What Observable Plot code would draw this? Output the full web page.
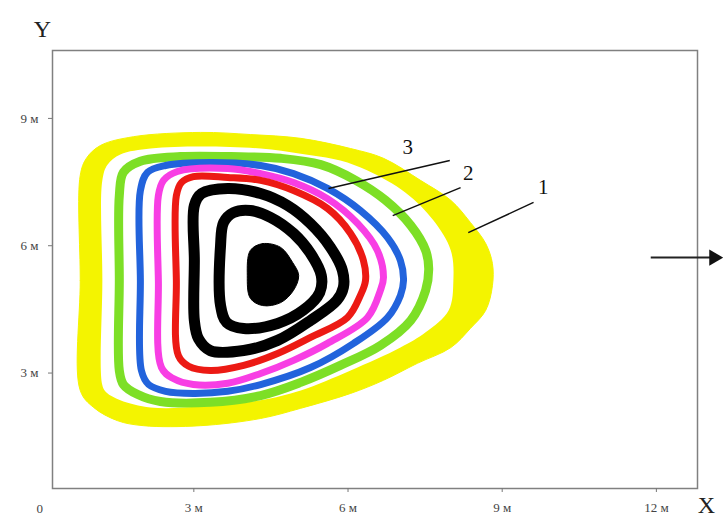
<!DOCTYPE html>
<html>
<head>
<meta charset="utf-8">
<script src="https://cdn.jsdelivr.net/npm/d3@7"></script>
<script src="https://cdn.jsdelivr.net/npm/@observablehq/plot@0.6"></script>
<style>
  html, body { margin: 0; padding: 0; background: #fff; }
  #chart svg { display: block; }
</style>
</head>
<body>
<div id="chart"></div>
<script>
// Axis ticks (metres)
const xTicks = [3, 6, 9, 12];
const yTicks = [3, 6, 9];

// Contour rings [x m, y m]
const yellowOuter = [[0.79,2.59],[0.79,5.18],[0.79,7.66],[0.91,8.06],[1.18,8.36],[1.83,8.57],[3.13,8.67],[4.10,8.62],[5.08,8.53],[6.05,8.29],[6.69,8.06],[7.41,7.54],[8.00,7.07],[8.38,6.55],[8.68,6.05],[8.81,5.58],[8.81,5.06],[8.68,4.48],[8.38,4.05],[8.00,3.60],[7.35,3.23],[6.69,2.83],[6.05,2.52],[5.08,2.17],[4.30,1.93],[3.13,1.76],[2.02,1.76],[1.51,1.88],[1.05,2.19]];
const yellowInner = [[1.22,2.71],[1.22,5.18],[1.22,7.54],[1.32,7.91],[1.57,8.15],[2.16,8.29],[3.13,8.34],[4.30,8.29],[5.08,8.17],[5.85,8.01],[6.38,7.77],[7.12,7.25],[7.66,6.60],[8.00,5.89],[8.05,5.18],[7.96,4.48],[7.51,3.96],[7.02,3.60],[6.05,3.06],[5.08,2.59],[4.30,2.36],[3.13,2.21],[2.16,2.19],[1.57,2.36],[1.30,2.54]];
const greenRing = [[1.55,3.06],[1.55,5.18],[1.55,7.18],[1.63,7.73],[1.96,7.99],[2.74,8.10],[3.72,8.10],[4.69,8.06],[5.47,7.91],[6.15,7.54],[6.73,7.07],[7.22,6.48],[7.51,5.89],[7.57,5.46],[7.51,4.95],[7.22,4.24],[6.63,3.65],[5.85,3.18],[5.08,2.78],[4.30,2.47],[3.32,2.31],[2.35,2.33],[1.90,2.50],[1.63,2.73]];
const blueRing = [[1.98,3.06],[1.96,5.18],[1.96,7.30],[2.10,7.73],[2.45,7.89],[3.32,7.96],[4.30,7.89],[4.94,7.70],[5.60,7.35],[6.24,6.83],[6.77,6.19],[7.02,5.65],[7.08,5.18],[7.02,4.83],[6.77,4.31],[6.11,3.70],[5.27,3.13],[4.30,2.73],[3.66,2.57],[2.99,2.52],[2.45,2.57],[2.12,2.73]];
const magentaRing = [[2.37,3.13],[2.31,5.18],[2.31,7.18],[2.41,7.54],[2.68,7.75],[3.66,7.82],[4.30,7.70],[4.94,7.49],[5.60,7.11],[6.19,6.52],[6.57,5.89],[6.69,5.25],[6.63,4.95],[6.38,4.31],[5.60,3.70],[4.94,3.30],[4.30,2.99],[3.66,2.76],[2.99,2.73],[2.60,2.87]];
const redRing = [[2.70,3.41],[2.66,5.18],[2.66,7.18],[2.76,7.49],[2.99,7.63],[3.66,7.61],[4.30,7.54],[4.94,7.30],[5.60,6.88],[6.05,6.29],[6.30,5.65],[6.34,5.18],[6.24,4.83],[5.99,4.31],[5.27,3.84],[4.63,3.46],[3.97,3.18],[3.32,3.06],[2.90,3.16]];
const blackRing1 = [[3.01,4.24],[3.01,5.65],[3.01,6.95],[3.15,7.23],[3.66,7.35],[4.30,7.23],[4.82,6.95],[5.27,6.52],[5.66,5.96],[5.89,5.42],[5.91,5.02],[5.78,4.71],[5.27,4.24],[4.63,3.77],[3.97,3.53],[3.32,3.53],[3.09,3.81]];
const blackRing2 = [[3.52,4.59],[3.52,6.01],[3.58,6.55],[3.77,6.78],[4.10,6.83],[4.49,6.67],[4.94,6.29],[5.27,5.82],[5.48,5.30],[5.45,4.90],[5.13,4.48],[4.63,4.17],[3.97,4.05],[3.64,4.19]];
const blackCore = [[4.10,5.89],[4.34,6.05],[4.69,5.96],[4.92,5.61],[5.04,5.30],[4.94,4.95],[4.69,4.66],[4.34,4.59],[4.10,4.76],[4.04,5.30]];

// Callout labels and leader lines
const calloutText = ["1", "2", "3"];
const calloutTextX = [9.80, 8.34, 7.16];
const calloutTextY = [7.37, 7.70, 8.31];
const leaderX1 = [9.61, 8.19, 7.98];
const leaderY1 = [7.02, 7.37, 8.01];
const leaderX2 = [8.34, 6.87, 5.62];
const leaderY2 = [6.31, 6.71, 7.35];

// Flow arrow
const arrowX = [11.89, 13.12];
const arrowY = [5.72, 5.72];

const serif = "'Liberation Serif', 'Times New Roman', serif";
const P = {x: d => d[0], y: d => d[1], curve: "catmull-rom-closed"};
const ring = (data, color, w) => Plot.line(data, {...P, stroke: color, strokeWidth: w, strokeLinejoin: "round"});

const callouts = calloutText.map((t, i) => ({t, x: calloutTextX[i], y: calloutTextY[i], x1: leaderX1[i], y1: leaderY1[i], x2: leaderX2[i], y2: leaderY2[i]}));

const chart = Plot.plot({
  width: 723,
  height: 517,
  marginLeft: 52,
  marginRight: 26,
  marginTop: 50,
  marginBottom: 29,
  style: {fontFamily: serif, background: "#fff"},
  x: {domain: [0.25, 12.8]},
  y: {domain: [0.28, 10.6]},
  marks: [
    Plot.line(yellowOuter, {...P, fill: "#f4f400", stroke: "#f4f400", strokeWidth: 1}),
    Plot.line(yellowInner, {...P, fill: "#ffffff", stroke: "none"}),
    ring(greenRing, "#7ddf26", 9),
    ring(blueRing, "#2263dc", 7),
    ring(magentaRing, "#f83ee4", 7),
    ring(redRing, "#ec1a14", 7),
    ring(blackRing1, "#000", 11),
    ring(blackRing2, "#000", 11),
    Plot.line(blackCore, {...P, fill: "#000", stroke: "#000", strokeWidth: 1}),
    Plot.link(callouts, {x1: "x1", y1: "y1", x2: "x2", y2: "y2", stroke: "#111", strokeWidth: 1.5}),
    Plot.text(callouts, {x: "x", y: "y", text: "t", fontSize: 21, fill: "#111"}),
    Plot.frame({stroke: "#808080", strokeWidth: 1.5}),
    Plot.axisX(xTicks, {tickFormat: d => `${d} м`, tickSize: 4, tickPadding: 10, fontSize: 13, fill: "#444", stroke: "#777", label: null}),
    Plot.axisY(yTicks, {tickFormat: d => `${d} м`, tickSize: 4, tickPadding: 10, fontSize: 13, fill: "#444", stroke: "#777", label: null}),
    Plot.text(["0"], {x: [0], frameAnchor: "bottom", dy: 20, lineAnchor: "middle", fontSize: 13, fill: "#444"}),
    Plot.text(["Y"], {frameAnchor: "top-left", textAnchor: "middle", lineAnchor: "middle", dx: -10, dy: -21, fontSize: 24, fill: "#222"}),
    Plot.text(["X"], {frameAnchor: "bottom-right", textAnchor: "middle", lineAnchor: "middle", dx: 9, dy: 17, fontSize: 24, fill: "#222"}),
    Plot.link([0], {x1: () => arrowX[0], x2: () => arrowX[1], y1: () => arrowY[0], y2: () => arrowY[1], stroke: "#222", strokeWidth: 2}),
    Plot.dot([0], {x: () => arrowX[1], y: () => arrowY[1], symbol: "triangle", rotate: 90, r: 6, fill: "#111", stroke: "none"})
  ]
});
document.getElementById("chart").appendChild(chart);
</script>
</body>
</html>
